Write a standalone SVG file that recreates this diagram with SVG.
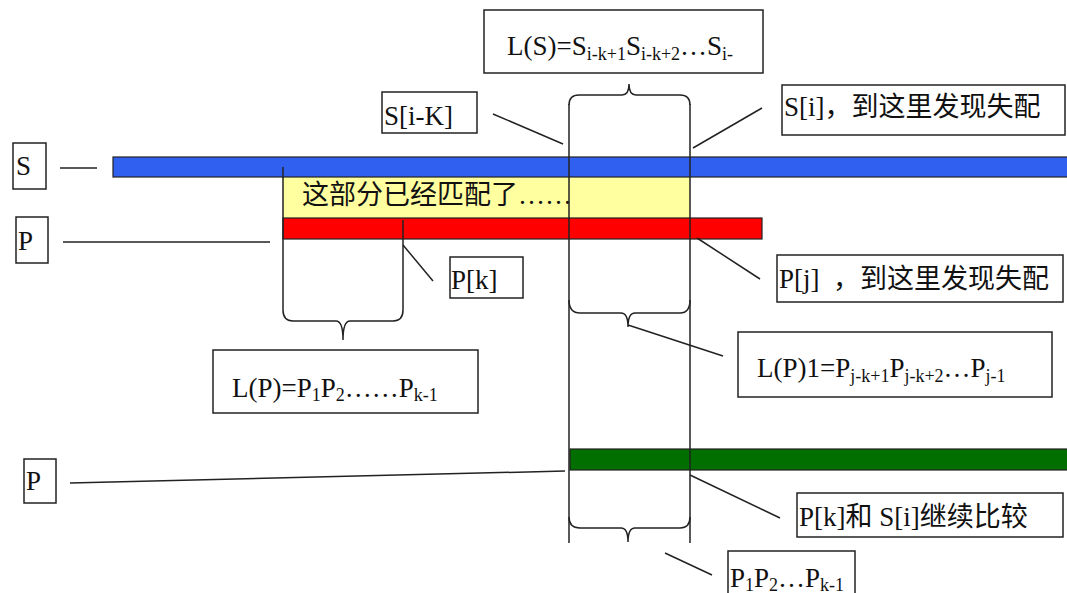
<svg xmlns="http://www.w3.org/2000/svg" width="1067" height="593" viewBox="0 0 1067 593">
<style>
.box{fill:#fff;stroke:#222;stroke-width:1.5}
.t{font-family:"Liberation Serif","Noto Sans CJK SC",serif;font-size:27px;fill:#111}
.sub{font-size:18px}
.ln{stroke:#222;stroke-width:1.5;fill:none}
.bar{stroke:#222;stroke-width:1.2}
</style>
<rect width="1067" height="593" fill="#fff"/>
<g id="matched-area">
<rect x="283" y="177" width="407" height="41" fill="#FFFFA0"/>
<text class="t" x="302" y="204">这部分已经匹配了……</text>
</g>
<g id="bar-S"><rect class="bar" x="113" y="157" width="960" height="20" fill="#3060F0"/></g>
<g id="bar-P"><rect class="bar" x="283" y="218" width="479" height="21" fill="#FF0000"/></g>
<g id="bar-P2"><rect class="bar" x="570" y="449" width="503" height="21" fill="#006F00"/></g>
<g id="box-LS">
<rect class="box" x="484" y="10" width="279" height="63"/>
<text class="t" x="507" y="55">L(S)=S<tspan class="sub" dy="5">i-k+1</tspan><tspan dy="-5">S</tspan><tspan class="sub" dy="5">i-k+2</tspan><tspan dy="-5">…S</tspan><tspan class="sub" dy="5">i-</tspan></text>
</g>
<g id="box-S"><rect class="box" x="13" y="143" width="33" height="46"/><text class="t" x="16" y="175">S</text></g>
<g id="box-P"><rect class="box" x="16" y="217" width="32" height="46"/><text class="t" x="18" y="250">P</text></g>
<g id="box-Sik"><rect class="box" x="382" y="92" width="95" height="41"/><text class="t" x="384" y="125">S[i-K]</text></g>
<g id="box-Si"><rect class="box" x="782" y="85" width="283" height="50"/><text class="t" x="784" y="116">S[i]，到这里发现失配</text></g>
<g id="box-Pj"><rect class="box" x="777" y="255" width="286" height="47"/><text class="t" x="779" y="288" xml:space="preserve">P[j]  ，到这里发现失配</text></g>
<g id="box-Pk"><rect class="box" x="450" y="257" width="73" height="41"/><text class="t" x="451" y="289">P[k]</text></g>
<g id="box-LP">
<rect class="box" x="213" y="350" width="265" height="63"/>
<text class="t" x="232" y="397">L(P)=P<tspan class="sub" dy="4">1</tspan><tspan dy="-4">P</tspan><tspan class="sub" dy="4">2</tspan><tspan dy="-4">……P</tspan><tspan class="sub" dy="4">k-1</tspan></text>
</g>
<g id="box-LP1">
<rect class="box" x="738" y="332" width="314" height="65"/>
<text class="t" x="757" y="377">L(P)1=P<tspan class="sub" dy="5">j-k+1</tspan><tspan dy="-5">P</tspan><tspan class="sub" dy="5">j-k+2</tspan><tspan dy="-5">…P</tspan><tspan class="sub" dy="5">j-1</tspan></text>
</g>
<g id="box-P3"><rect class="box" x="24" y="459" width="32" height="44"/><text class="t" x="26" y="490">P</text></g>
<g id="box-cmp"><rect class="box" x="797" y="493" width="266" height="44"/><text class="t" x="799" y="526">P[k]和 S[i]继续比较</text></g>
<g id="box-P1Pk"><rect class="box" x="728" y="551" width="127" height="45"/><text class="t" x="730" y="587">P<tspan class="sub" dy="4">1</tspan><tspan dy="-4">P</tspan><tspan class="sub" dy="4">2</tspan><tspan dy="-4">…P</tspan><tspan class="sub" dy="4">k-1</tspan></text></g>
<g id="connectors">
<line class="ln" x1="60" y1="168" x2="97" y2="168"/>
<line class="ln" x1="63" y1="242" x2="270" y2="242"/>
<line class="ln" x1="70" y1="483" x2="565" y2="471"/>
<line class="ln" x1="493" y1="114" x2="563" y2="144"/>
<line class="ln" x1="762" y1="108" x2="693" y2="148"/>
<line class="ln" x1="697" y1="238" x2="760" y2="279"/>
<line class="ln" x1="403" y1="245" x2="433" y2="281"/>
<line class="ln" x1="628" y1="325" x2="723" y2="356"/>
<line class="ln" x1="690" y1="475" x2="780" y2="518"/>
<line class="ln" x1="665" y1="553" x2="712" y2="575"/>
<line class="ln" x1="283" y1="167" x2="283" y2="310"/>
<line class="ln" x1="403" y1="220" x2="403" y2="310"/>
<line class="ln" x1="569" y1="104" x2="569" y2="543"/>
<line class="ln" x1="690" y1="104" x2="690" y2="543"/>
<path class="ln" d="M569,105 Q569,95 579,95 L622,95 Q629,95 629,84 Q629,95 636,95 L680,95 Q690,95 690,105"/>
<path class="ln" d="M569,300 Q569,313 580,313 L621,313 Q628,313 628,327 Q628,313 635,313 L680,313 Q690,313 690,300"/>
<path class="ln" d="M569,517 Q569,528 580,528 L621,528 Q628,528 628,542 Q628,528 635,528 L680,528 Q690,528 690,517"/>
<path class="ln" d="M283,310 Q283,321 293,321 L336,321 Q343,321 343,340 Q343,321 350,321 L393,321 Q403,321 403,310"/>
</g>
</svg>
